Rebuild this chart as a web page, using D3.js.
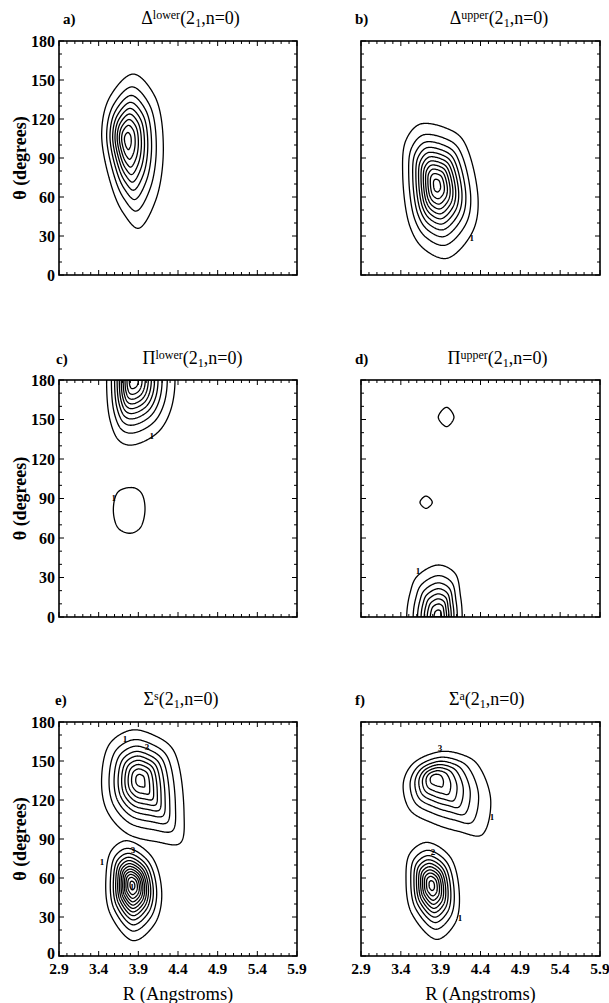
<!DOCTYPE html>
<html><head><meta charset="utf-8">
<script src="https://cdn.jsdelivr.net/npm/d3@7"></script>
<style>
body{margin:0;background:#fff}
svg{display:block}
text{font-family:"Liberation Serif","Times New Roman",serif;fill:#000}
</style>
</head><body>
<svg id="chart" width="609" height="1003"></svg>
<script>
// ---------------- data ----------------
const rTicks = [2.9, 3.4, 3.9, 4.4, 4.9, 5.4, 5.9];
const thetaTicks = [0, 30, 60, 90, 120, 150, 180];
const rMinor = [2.9,3.0,3.1,3.2,3.3,3.4,3.5,3.6,3.7,3.8,3.9,4.0,4.1,4.2,4.3,4.4,4.5,4.6,4.7,4.8,4.9,5.0,5.1,5.2,5.3,5.4,5.5,5.6,5.7,5.8,5.9];
const thetaMinor = [0,10,20,30,40,50,60,70,80,90,100,110,120,130,140,150,160,170,180];

const panelLetters = ["a)", "b)", "c)", "d)", "e)", "f)"];
const titleSymbols = ["Δ", "Δ", "Π", "Π", "Σ", "Σ"];
const titleSups = ["lower", "upper", "lower", "upper", "s", "a"];

// lobes: peak [R, theta], top value, and points [R, theta] on the outermost (level 1) contour
const lobesA = [
  {peak: [3.76, 104], top: 9.5, edge: [[3.837,154.6],[3.543,137.2],[3.438,109],[3.564,67.9],[3.71,47.7],[3.90,35.9],[4.12,57.7],[4.215,98.7],[4.11,137.2]]}
];
const lobesB = [
  {peak: [3.85, 69.2], top: 11.5, edge: [[3.64,116],[3.465,103.8],[3.423,78.2],[3.515,37.2],[3.682,20.5],[3.976,12.8],[4.29,32],[4.37,57.7],[4.18,103.8],[3.976,112.8]]}
];
const lobesC = [
  {peak: [3.83, 180], top: 10.8, edge: [[4.362,180],[4.308,157.2],[4.174,142],[3.963,133.1],[3.774,130.6],[3.65,134.4],[3.543,149.6],[3.50,180]]},
  {peak: [3.78, 82], top: 1.4, edge: [[3.837,98.2],[3.648,95.2],[3.585,81.3],[3.648,67.4],[3.795,63.6],[3.92,67.4],[3.984,81.3],[3.94,94]]}
];
const lobesD = [
  {peak: [3.87, 0], top: 8.6, edge: [[3.474,0],[3.515,18],[3.60,30.6],[3.87,39.5],[4.08,33.2],[4.15,15.4],[4.17,0]]},
  {peak: [3.975, 151.7], top: 1.3, edge: [[3.975,159.3],[3.87,151.7],[3.975,144.6],[4.067,151.7]]},
  {peak: [3.716, 87.1], top: 1.3, edge: [[3.716,91.9],[3.64,87.1],[3.716,82.5],[3.795,87.1]]}
];
const lobesE = [
  {peak: [3.921, 135.4], top: 9.5, edge: [[3.816,173.8],[3.543,163.6],[3.438,137.9],[3.50,112.3],[3.753,94.4],[4.131,87.9],[4.425,86.7],[4.476,109.8],[4.34,158.5],[4.089,170]]},
  {peak: [3.824, 54.6], top: 12.5, edge: [[3.753,88.7],[3.564,81.5],[3.492,61],[3.543,32.8],[3.837,11.8],[4.11,25.1],[4.195,48.2],[4.069,76.4]]}
];
const lobesF = [
  {peak: [3.829, 136.7], top: 7.6, edge: [[3.892,157.2],[3.556,148.2],[3.431,132.8],[3.515,112.3],[3.808,102],[4.143,95.6],[4.415,93.1],[4.528,120],[4.352,148.2],[4.143,155.4]]},
  {peak: [3.787, 54.6], top: 10.5, edge: [[3.725,87.4],[3.515,79],[3.465,58.5],[3.536,32.8],[3.85,12.8],[4.08,25.1],[4.134,48.2],[4.017,76.4]]}
];

const levelsA = [1,2,3,4,5,6,7,8,9];
const levelsB = [1,2,3,4,5,6,7,8,9,10,11];
const levelsC = [1,2,3,4,5,6,7,8,9,10];
const levelsD = [1,2,3,4,5,6,7,8];
const levelsE = [1,2,3,4,5,6,7,8,9,10,11,12];
const levelsF = [1,2,3,4,5,6,7,8,9,10];

// contour labels [R, theta, text]
const labelsA = [];
const labelsB = [[4.29, 28.5, "1"]];
const labelsC = [[4.07, 137.7, "1"], [3.59, 90.4, "1"]];
const labelsD = [[3.615, 35, "1"]];
const labelsE = [[3.732,166.9,"1"],[4.009,160.8,"3"],[3.442,72.3,"1"],[3.833,81.5,"3"],[3.82,53,"1"]];
const labelsF = [[3.892,160,"3"],[4.544,106.9,"1"],[3.804,80,"2"],[4.143,29.2,"1"]];

// ---------------- layout ----------------
const colX = [[59, 297], [361, 600]];
const rowY = [[275, 41], [617, 380], [956, 722]];
const titleCX = [190.5, 499, 192.5, 497.5, 181, 486.7];
const letterX = [63, 355, 56, 355, 55, 355];
const titleBase = [24, 364, 705];
const profileExp = 1.7;

const panels = [
  {col:0,row:0,lobes:lobesA,levels:levelsA,labels:labelsA},
  {col:1,row:0,lobes:lobesB,levels:levelsB,labels:labelsB},
  {col:0,row:1,lobes:lobesC,levels:levelsC,labels:labelsC},
  {col:1,row:1,lobes:lobesD,levels:levelsD,labels:labelsD},
  {col:0,row:2,lobes:lobesE,levels:levelsE,labels:labelsE},
  {col:1,row:2,lobes:lobesF,levels:levelsF,labels:labelsF}
];

const svg = d3.select("#chart");
const defs = svg.append("defs");

// r(phi) of a smooth closed curve (centripetal Catmull-Rom) through the edge points
function radiusTable(pix, cx, cy) {
  const sorted = pix.slice().sort((p, q) => Math.atan2(p[1] - cy, p[0] - cx) - Math.atan2(q[1] - cy, q[0] - cx));
  const d = d3.line().curve(d3.curveCatmullRomClosed.alpha(0.5))(sorted);
  const el = defs.append("path").attr("d", d).node();
  const len = el.getTotalLength();
  const N = 1500, s = [];
  for (let i = 0; i < N; i++) {
    const pt = el.getPointAtLength(len * i / N);
    s.push({a: Math.atan2(pt.y - cy, pt.x - cx), r: Math.hypot(pt.x - cx, pt.y - cy)});
  }
  el.remove();
  s.sort((p, q) => p.a - q.a);
  const M = 1440, table = new Float64Array(M), n = s.length;
  let j = 0;
  for (let b = 0; b < M; b++) {
    const a = -Math.PI + 2 * Math.PI * b / M;
    while (j < n && s[j].a < a) j++;
    const prev = s[(j - 1 + n) % n], next = s[j % n];
    let pa = prev.a, na = next.a;
    if (j === 0) pa -= 2 * Math.PI;
    if (j === n) na += 2 * Math.PI;
    const t = na > pa ? (a - pa) / (na - pa) : 0;
    table[b] = prev.r + t * (next.r - prev.r);
  }
  return phi => {
    const f = (phi + Math.PI) / (2 * Math.PI) * M;
    const i0 = Math.floor(f), t = f - i0;
    const r0 = table[((i0 % M) + M) % M], r1 = table[(((i0 + 1) % M) + M) % M];
    return Math.max(r0 + t * (r1 - r0), 1);
  };
}

function prepareLobe(L, x, y) {
  const cx = x(L.peak[0]), cy = y(L.peak[1]);
  const atEdge = L.peak[1] === 0 || L.peak[1] === 180;
  const pix = [];
  L.edge.forEach(([R, T]) => {
    const px = x(R), py = y(T);
    pix.push([px, py]);
    if (atEdge && Math.abs(py - cy) > 1e-6) pix.push([px, 2 * cy - py]);
  });
  const rad = radiusTable(pix, cx, cy);
  const lnP = Math.log(L.top);
  return (px, py) => {
    const u = px - cx, v = py - cy;
    const dd = Math.hypot(u, v);
    if (dd === 0) return L.top;
    const q = dd / rad(Math.atan2(v, u));
    return L.top * Math.exp(-lnP * Math.pow(q, profileExp));
  };
}

panels.forEach((p, k) => {
  const [x0, x1] = colX[p.col];
  const [y0, y1] = rowY[p.row];
  const x = d3.scaleLinear().domain([2.9, 5.9]).range([x0, x1]);
  const y = d3.scaleLinear().domain([0, 180]).range([y0, y1]);
  const g = svg.append("g");

  const clipId = "clip" + k;
  defs.append("clipPath").attr("id", clipId).append("rect")
    .attr("x", x0).attr("y", y1).attr("width", x1 - x0).attr("height", y0 - y1);

  // field on grid
  const nx = 301, ny = 361;
  const dR = 3 / (nx - 1), dT = 180 / (ny - 1);
  const fns = p.lobes.map(L => prepareLobe(L, x, y));
  const values = new Float64Array(nx * ny);
  for (let j = 0; j < ny; j++) {
    const py = y(180 - j * dT);
    for (let i = 0; i < nx; i++) {
      const px = x(2.9 + i * dR);
      let v = -Infinity;
      for (const f of fns) v = Math.max(v, f(px, py));
      values[j * nx + i] = v;
    }
  }
  const contours = d3.contours().size([nx, ny]).thresholds(p.levels)(values);
  const proj = d3.geoTransform({
    point(cx, cy) { this.stream.point(x(2.9 + (cx - 0.5) * dR), y(180 - (cy - 0.5) * dT)); }
  });
  const path = d3.geoPath(proj);
  g.append("g").attr("clip-path", `url(#${clipId})`)
    .selectAll("path").data(contours).join("path")
    .attr("d", path).attr("fill", "none").attr("stroke", "#000")
    .attr("stroke-width", 1.3).attr("stroke-linejoin", "round");

  // contour labels
  g.selectAll("text.cl").data(p.labels).join("text").attr("class", "cl")
    .attr("x", d => x(d[0])).attr("y", d => y(d[1]) + 3)
    .attr("text-anchor", "middle").attr("font-size", 9).attr("font-weight", "bold")
    .attr("fill", "#000")
    .text(d => d[2]);

  // ticks
  const tk = g.append("g").attr("stroke", "#000").attr("stroke-width", 1);
  rMinor.forEach(v => {
    const len = rTicks.some(t => Math.abs(t - v) < 1e-9) ? 5 : 3;
    tk.append("line").attr("x1", x(v)).attr("x2", x(v)).attr("y1", y0).attr("y2", y0 - len);
    tk.append("line").attr("x1", x(v)).attr("x2", x(v)).attr("y1", y1).attr("y2", y1 + len);
  });
  thetaMinor.forEach(v => {
    const len = thetaTicks.includes(v) ? 5 : 3;
    tk.append("line").attr("x1", x0).attr("x2", x0 + len).attr("y1", y(v)).attr("y2", y(v));
    tk.append("line").attr("x1", x1).attr("x2", x1 - len).attr("y1", y(v)).attr("y2", y(v));
  });

  // frame
  g.append("rect").attr("x", x0).attr("y", y1).attr("width", x1 - x0).attr("height", y0 - y1)
    .attr("fill", "none").attr("stroke", "#000").attr("stroke-width", 1.6);

  // y labels
  if (p.col === 0) {
    g.selectAll("text.yl").data(thetaTicks).join("text").attr("class", "yl")
      .attr("x", x0 - 4).attr("y", d => y(d) + (p.row === 2 && d === 0 ? 3 : 5.5)).attr("text-anchor", "end")
      .attr("font-size", 16).attr("font-weight", "bold").text(d => d);
    g.append("text").attr("transform", `translate(20,${(y0 + y1) / 2}) rotate(-90)`)
      .attr("text-anchor", "middle").attr("dy", "0.35em")
      .attr("font-size", 18).attr("font-weight", "bold").text("θ (degrees)");
  }
  // x labels
  if (p.row === 2) {
    g.selectAll("text.xl").data(rTicks).join("text").attr("class", "xl")
      .attr("x", d => x(d)).attr("y", y0 + 18).attr("text-anchor", "middle")
      .attr("font-size", 15.5).attr("font-weight", "bold").text(d => d.toFixed(1));
    g.append("text").attr("x", (x0 + x1) / 2).attr("y", y0 + 44).attr("text-anchor", "middle")
      .attr("font-size", 18.5).text("R (Angstroms)");
  }

  // titles
  const tb = titleBase[p.row];
  g.append("text").attr("x", letterX[k]).attr("y", tb).attr("font-size", 15).attr("font-weight", "bold")
    .text(panelLetters[k]);
  const t = g.append("text").attr("x", titleCX[k]).attr("y", tb).attr("text-anchor", "middle").attr("font-size", 18);
  t.append("tspan").text(titleSymbols[k]);
  t.append("tspan").attr("font-size", 12).attr("dy", -5).text(titleSups[k]);
  t.append("tspan").attr("dy", 5).text("(2");
  t.append("tspan").attr("font-size", 12).attr("dy", 3).text("1");
  t.append("tspan").attr("dy", -3).text(",n=0)");
});
</script>
</body></html>
